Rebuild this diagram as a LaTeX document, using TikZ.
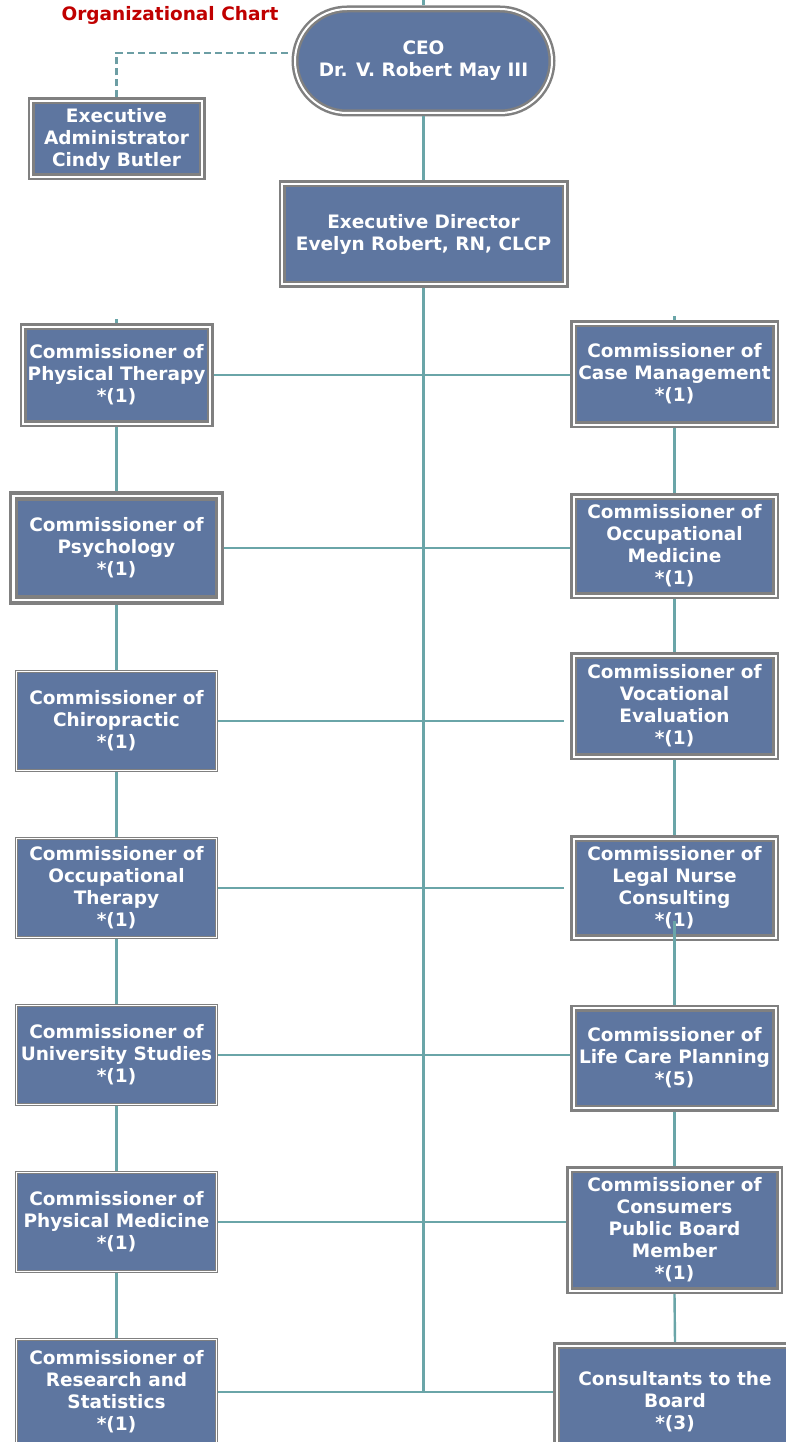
\documentclass[tikz,border=0pt]{standalone}
\usepackage{fontspec}
\setmainfont{DejaVu Sans}
\usetikzlibrary{positioning}
\usetikzlibrary{calc}

\definecolor{boxblue}{RGB}{94,118,160}
\definecolor{linkteal}{RGB}{106,165,168}
\definecolor{dashteal}{RGB}{108,158,164}
\definecolor{edgegray}{RGB}{128,128,128}
\definecolor{titlered}{RGB}{192,0,0}

\tikzset{
    box/.style={draw=edgegray, double=white, fill=boxblue, text=white,
        font=\fontsize{18.5}{22}\selectfont\bfseries, align=center, inner sep=0pt},
    boxmid/.style={box, line width=2.5pt, double distance=2pt, outer sep=3.5pt},
    boxthick/.style={box, line width=3.5pt, double distance=2.5pt, outer sep=4.75pt},
    boxthin/.style={box, line width=1pt, double distance=1pt, outer sep=1.5pt},
    link/.style={draw=linkteal, line width=2.4pt},
    dashlink/.style={draw=dashteal, line width=2.4pt, dash pattern=on 7pt off 4pt},
}

\begin{document}
\begin{tikzpicture}[x=1pt, y=-1pt]

        \useasboundingbox (0,0) rectangle (785,1442);

        % Title
        \node[text=titlered, font=\fontsize{18.5}{22}\selectfont\bfseries] (title) at (170,15) {Organizational Chart};

        % Top: CEO, administrator, director
        \node[boxmid, rounded corners=52pt, minimum width=257pt, minimum height=104pt] (ceo) at (423.5,61)
            {CEO\\Dr. V. Robert May III};
        \node[boxmid, minimum width=171pt, minimum height=76pt] (exadm) at (116.5,139)
            {Executive\\Administrator\\Cindy Butler};
        \node[boxmid, minimum width=283pt, minimum height=100pt] (exdir) at (423.5,234)
            {Executive Director\\Evelyn Robert, RN, CLCP};

        % Left column
        \node[boxmid, minimum width=187pt, minimum height=97pt] (l1) at (116.5,375)
            {Commissioner of\\Physical Therapy\\*(1)};
        \node[boxthick, minimum width=206pt, minimum height=104pt] (l2) at (116.5,548)
            {Commissioner of\\Psychology\\*(1)};
        \node[boxthin, minimum width=200pt, minimum height=99pt] (l3) at (116.5,721)
            {Commissioner of\\Chiropractic\\*(1)};
        \node[boxthin, minimum width=200pt, minimum height=99pt] (l4) at (116.5,888)
            {Commissioner of\\Occupational\\Therapy\\*(1)};
        \node[boxthin, minimum width=200pt, minimum height=99pt] (l5) at (116.5,1055)
            {Commissioner of\\University Studies\\*(1)};
        \node[boxthin, minimum width=200pt, minimum height=99pt] (l6) at (116.5,1222)
            {Commissioner of\\Physical Medicine\\*(1)};
        \node[boxthin, minimum width=200pt, minimum height=105pt] (l7) at (116.5,1392)
            {Commissioner of\\Research and\\Statistics\\*(1)};

        % Right column
        \node[boxmid, minimum width=202pt, minimum height=101pt] (r1) at (674.5,374)
            {Commissioner of\\Case Management\\*(1)};
        \node[boxmid, minimum width=202pt, minimum height=99pt] (r2) at (674.5,546)
            {Commissioner of\\Occupational\\Medicine\\*(1)};
        \node[boxmid, minimum width=202pt, minimum height=101pt] (r3) at (674.5,706)
            {Commissioner of\\Vocational\\Evaluation\\*(1)};
        \node[boxmid, minimum width=202pt, minimum height=99pt] (r4) at (674.5,888)
            {Commissioner of\\Legal Nurse\\Consulting\\*(1)};
        \node[boxmid, minimum width=202pt, minimum height=100pt] (r5) at (674.5,1058)
            {Commissioner of\\Life Care Planning\\*(5)};
        \node[boxmid, minimum width=210pt, minimum height=121pt] (r6) at (674.5,1230)
            {Commissioner of\\Consumers\\Public Board\\Member\\*(1)};
        \node[boxmid, minimum width=237pt, minimum height=113pt] (r7) at (675,1402)
            {Consultants to the\\Board\\*(3)};

        % Dashed staff link
        \draw[dashlink] (exadm.north) |- ($(ceo.west)+(0,-8)$);

        % Trunk
        \coordinate (trunkend) at (exdir.south |- l7.east);
        \draw[link] (ceo.north) -- ++(0,-6);
        \draw[link] (ceo.south) -- (exdir.north);
        \draw[link] (exdir.south) -- (trunkend);

        % Column links
        \draw[link] (l1.north) -- ++(0,-4);
        \draw[link] (r1.north) -- ++(0,-4);
        \foreach \a/\b in {l1/l2, l2/l3, l3/l4, l4/l5, l5/l6, l6/l7, r1/r2, r2/r3, r3/r4, r5/r6, r6/r7} {
            \draw[link] (\a.south) -- (\b.north);
        }
        \draw[link] ($(r4.south)+(0,-20)$) -- (r5.north);

        % Cross links
        \foreach \a/\b in {l1/r1, l2/r2, l5/r5, l6/r6, l7/r7} {
            \draw[link] (\a.east) -- (\a.east -| \b.west);
        }
        \foreach \a/\b in {l3/r3, l4/r4} {
            \draw[link, shorten >=6pt] (\a.east) -- (\a.east -| \b.west);
        }

    \end{tikzpicture}
\end{document}
